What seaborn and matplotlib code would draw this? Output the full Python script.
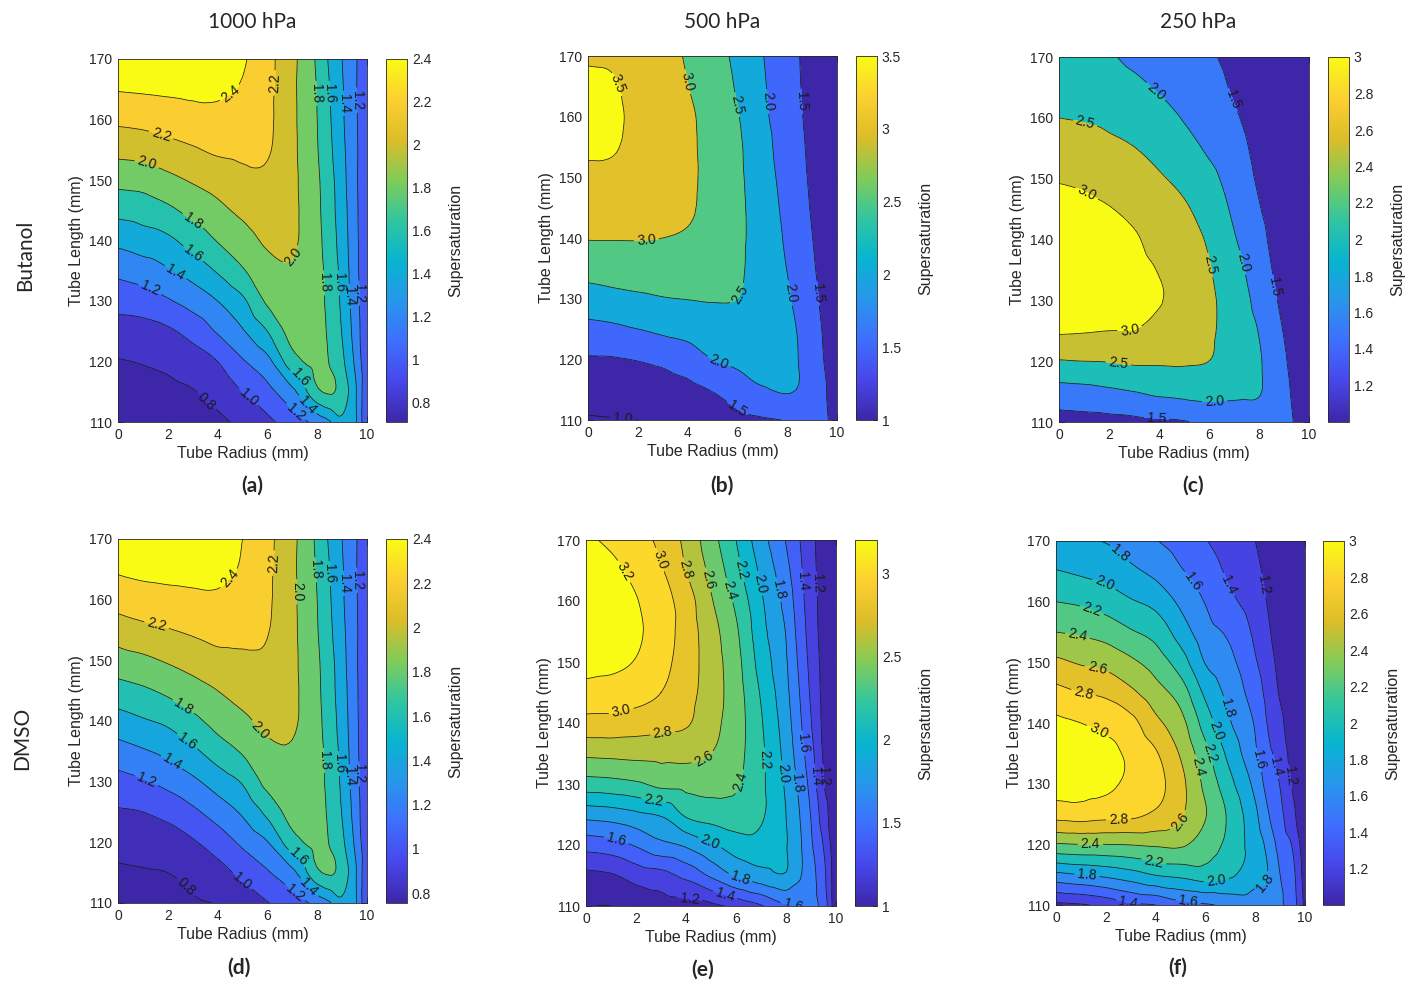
import numpy as np
import matplotlib
matplotlib.use("Agg")
import matplotlib.pyplot as plt
import matplotlib.tri as mtri
import seaborn as sns
from matplotlib.colors import LinearSegmentedColormap, Normalize
from matplotlib.cm import ScalarMappable
from matplotlib.ticker import FuncFormatter

sns.set_theme(style="ticks")
plt.rcParams["font.family"] = ["Liberation Sans", "DejaVu Sans"]
plt.rcParams["axes.edgecolor"] = "#262626"
plt.rcParams["xtick.color"] = "#262626"
plt.rcParams["ytick.color"] = "#262626"

# grid of the model, tube radius (mm) and tube length (mm)
radius = [0, 1, 2, 3, 4, 5, 6, 7, 8, 8.5, 9, 9.5, 10]
length = [110, 115, 120, 125, 130, 135, 140, 145, 150, 155, 160, 165, 170]

# supersaturation: one row per radius, length 110 -> 170
s_butanol_1000 = [
    [0.71, 0.74, 0.79, 0.92, 1.07, 1.25, 1.45, 1.66, 1.86, 2.06, 2.24, 2.41, 2.50],
    [0.71, 0.75, 0.81, 0.93, 1.10, 1.30, 1.51, 1.69, 1.88, 2.08, 2.26, 2.42, 2.50],
    [0.72, 0.76, 0.84, 0.97, 1.18, 1.38, 1.56, 1.76, 1.95, 2.13, 2.29, 2.43, 2.50],
    [0.73, 0.79, 0.91, 1.07, 1.28, 1.48, 1.68, 1.86, 2.02, 2.18, 2.32, 2.44, 2.49],
    [0.76, 0.87, 1.00, 1.22, 1.40, 1.62, 1.81, 1.95, 2.08, 2.23, 2.34, 2.43, 2.46],
    [0.85, 1.00, 1.18, 1.38, 1.56, 1.78, 1.92, 2.04, 2.15, 2.24, 2.30, 2.38, 2.42],
    [0.95, 1.14, 1.34, 1.60, 1.83, 1.93, 2.03, 2.10, 2.16, 2.22, 2.24, 2.25, 2.26],
    [1.10, 1.35, 1.72, 1.87, 1.93, 1.98, 2.03, 2.04, 2.04, 2.04, 2.04, 2.04, 2.05],
    [1.27, 1.76, 1.86, 1.88, 1.88, 1.87, 1.85, 1.84, 1.83, 1.81, 1.80, 1.79, 1.77],
    [1.38, 1.82, 1.79, 1.76, 1.73, 1.72, 1.70, 1.68, 1.67, 1.64, 1.62, 1.60, 1.57],
    [1.55, 1.72, 1.64, 1.59, 1.56, 1.54, 1.51, 1.49, 1.47, 1.45, 1.43, 1.42, 1.40],
    [1.45, 1.45, 1.38, 1.33, 1.30, 1.28, 1.27, 1.26, 1.25, 1.25, 1.24, 1.23, 1.23],
    [1.00, 1.02, 1.03, 1.03, 1.03, 1.04, 1.04, 1.05, 1.05, 1.06, 1.06, 1.07, 1.08],
]

s_butanol_500 = [
    [0.96, 1.20, 1.46, 1.86, 2.29, 2.68, 3.02, 3.22, 3.42, 3.55, 3.60, 3.56, 3.47],
    [0.98, 1.23, 1.47, 1.91, 2.36, 2.72, 3.02, 3.20, 3.40, 3.53, 3.57, 3.53, 3.45],
    [1.00, 1.27, 1.52, 2.00, 2.42, 2.75, 3.02, 3.17, 3.30, 3.38, 3.40, 3.37, 3.30],
    [1.05, 1.30, 1.60, 2.10, 2.48, 2.76, 3.00, 3.12, 3.20, 3.25, 3.25, 3.22, 3.18],
    [1.10, 1.37, 1.75, 2.17, 2.51, 2.75, 2.95, 3.06, 3.09, 3.09, 3.08, 3.01, 2.95],
    [1.18, 1.53, 2.00, 2.26, 2.53, 2.70, 2.80, 2.84, 2.85, 2.84, 2.82, 2.78, 2.72],
    [1.35, 1.75, 2.10, 2.30, 2.50, 2.57, 2.59, 2.60, 2.59, 2.58, 2.53, 2.45, 2.38],
    [1.45, 1.96, 2.15, 2.22, 2.28, 2.30, 2.30, 2.27, 2.23, 2.17, 2.10, 2.06, 2.02],
    [1.52, 2.05, 2.12, 2.10, 2.05, 1.99, 1.93, 1.87, 1.81, 1.77, 1.74, 1.71, 1.68],
    [1.65, 1.97, 1.98, 1.95, 1.87, 1.80, 1.74, 1.68, 1.63, 1.59, 1.55, 1.52, 1.50],
    [1.72, 1.78, 1.75, 1.70, 1.62, 1.56, 1.51, 1.46, 1.42, 1.39, 1.36, 1.33, 1.30],
    [1.60, 1.55, 1.48, 1.44, 1.39, 1.35, 1.31, 1.28, 1.25, 1.23, 1.21, 1.19, 1.17],
    [1.20, 1.20, 1.18, 1.16, 1.14, 1.12, 1.10, 1.08, 1.07, 1.06, 1.05, 1.04, 1.03],
]

s_butanol_250 = [
    [1.30, 1.81, 2.47, 3.05, 3.25, 3.30, 3.25, 3.13, 2.97, 2.73, 2.50, 2.37, 2.25],
    [1.33, 1.85, 2.50, 3.03, 3.22, 3.26, 3.22, 3.10, 2.92, 2.69, 2.47, 2.33, 2.18],
    [1.35, 1.92, 2.52, 3.00, 3.17, 3.20, 3.14, 3.02, 2.82, 2.60, 2.41, 2.22, 2.05],
    [1.38, 2.00, 2.57, 2.99, 3.10, 3.12, 3.05, 2.89, 2.70, 2.51, 2.31, 2.11, 1.90],
    [1.42, 2.10, 2.56, 2.84, 3.03, 2.98, 2.84, 2.69, 2.55, 2.36, 2.21, 1.95, 1.83],
    [1.47, 2.15, 2.55, 2.70, 2.78, 2.77, 2.70, 2.56, 2.38, 2.17, 1.97, 1.80, 1.66],
    [1.62, 2.17, 2.50, 2.56, 2.58, 2.53, 2.44, 2.29, 2.13, 1.93, 1.78, 1.66, 1.55],
    [1.70, 2.10, 2.27, 2.30, 2.27, 2.17, 2.04, 1.92, 1.80, 1.69, 1.56, 1.45, 1.38],
    [1.72, 2.04, 2.05, 1.98, 1.85, 1.75, 1.65, 1.53, 1.44, 1.37, 1.30, 1.24, 1.20],
    [1.70, 1.80, 1.78, 1.70, 1.60, 1.51, 1.43, 1.36, 1.30, 1.25, 1.20, 1.16, 1.12],
    [1.62, 1.60, 1.55, 1.48, 1.40, 1.34, 1.28, 1.23, 1.18, 1.14, 1.11, 1.08, 1.05],
    [1.45, 1.40, 1.35, 1.30, 1.25, 1.20, 1.16, 1.12, 1.09, 1.06, 1.04, 1.02, 1.01],
    [1.20, 1.18, 1.16, 1.14, 1.12, 1.10, 1.08, 1.06, 1.05, 1.04, 1.03, 1.02, 1.00],
]

s_dmso_1000 = [
    [0.76, 0.78, 0.86, 0.98, 1.13, 1.32, 1.52, 1.72, 1.92, 2.10, 2.28, 2.42, 2.50],
    [0.76, 0.79, 0.87, 1.00, 1.18, 1.38, 1.58, 1.77, 1.96, 2.15, 2.32, 2.44, 2.50],
    [0.77, 0.80, 0.90, 1.06, 1.26, 1.45, 1.64, 1.84, 2.02, 2.19, 2.34, 2.45, 2.50],
    [0.78, 0.85, 0.98, 1.16, 1.36, 1.56, 1.75, 1.92, 2.08, 2.23, 2.36, 2.45, 2.49],
    [0.81, 0.93, 1.09, 1.29, 1.49, 1.70, 1.87, 2.00, 2.14, 2.27, 2.37, 2.44, 2.46],
    [0.89, 1.05, 1.24, 1.43, 1.62, 1.82, 1.96, 2.07, 2.17, 2.25, 2.32, 2.38, 2.40],
    [0.99, 1.18, 1.39, 1.65, 1.86, 1.95, 2.05, 2.11, 2.17, 2.21, 2.23, 2.24, 2.25],
    [1.10, 1.35, 1.72, 1.87, 1.93, 1.98, 2.03, 2.04, 2.04, 2.04, 2.04, 2.04, 2.05],
    [1.27, 1.76, 1.86, 1.88, 1.88, 1.87, 1.85, 1.84, 1.83, 1.81, 1.80, 1.78, 1.76],
    [1.38, 1.82, 1.79, 1.76, 1.73, 1.72, 1.70, 1.68, 1.67, 1.64, 1.62, 1.60, 1.57],
    [1.55, 1.72, 1.64, 1.59, 1.56, 1.54, 1.51, 1.49, 1.47, 1.45, 1.43, 1.42, 1.40],
    [1.45, 1.45, 1.38, 1.33, 1.30, 1.28, 1.27, 1.26, 1.25, 1.25, 1.24, 1.23, 1.23],
    [1.00, 1.02, 1.03, 1.03, 1.03, 1.04, 1.04, 1.05, 1.05, 1.06, 1.06, 1.07, 1.08],
]

s_dmso_500 = [
    [1.00, 1.15, 1.48, 1.87, 2.31, 2.64, 2.93, 3.14, 3.25, 3.28, 3.28, 3.26, 3.22],
    [1.00, 1.18, 1.52, 1.90, 2.33, 2.65, 2.93, 3.12, 3.24, 3.27, 3.27, 3.24, 3.17],
    [1.05, 1.28, 1.62, 1.96, 2.37, 2.66, 2.90, 3.08, 3.19, 3.23, 3.21, 3.15, 3.08],
    [1.10, 1.33, 1.75, 2.02, 2.45, 2.66, 2.86, 3.00, 3.07, 3.10, 3.08, 3.02, 2.95],
    [1.12, 1.45, 1.83, 2.23, 2.46, 2.66, 2.82, 2.87, 2.90, 2.91, 2.90, 2.80, 2.75],
    [1.15, 1.63, 1.97, 2.29, 2.47, 2.60, 2.67, 2.70, 2.70, 2.68, 2.62, 2.55, 2.48],
    [1.25, 1.82, 2.09, 2.33, 2.42, 2.47, 2.49, 2.49, 2.47, 2.43, 2.36, 2.27, 2.20],
    [1.38, 1.92, 2.12, 2.23, 2.24, 2.24, 2.22, 2.18, 2.12, 2.07, 2.03, 1.96, 1.88],
    [1.57, 1.98, 2.01, 2.00, 1.97, 1.93, 1.89, 1.85, 1.82, 1.79, 1.73, 1.66, 1.59],
    [1.62, 1.83, 1.85, 1.82, 1.77, 1.71, 1.66, 1.62, 1.58, 1.54, 1.50, 1.46, 1.42],
    [1.65, 1.67, 1.63, 1.59, 1.53, 1.47, 1.41, 1.37, 1.34, 1.31, 1.29, 1.27, 1.25],
    [1.52, 1.46, 1.39, 1.30, 1.21, 1.18, 1.16, 1.15, 1.14, 1.13, 1.13, 1.12, 1.12],
    [1.05, 1.05, 1.04, 1.04, 1.03, 1.03, 1.03, 1.03, 1.02, 1.02, 1.02, 1.02, 1.02],
]

s_dmso_250 = [
    [1.15, 1.75, 2.38, 2.88, 3.08, 3.10, 3.04, 2.86, 2.64, 2.40, 2.20, 2.01, 1.86],
    [1.18, 1.80, 2.40, 2.90, 3.07, 3.08, 3.00, 2.80, 2.58, 2.37, 2.17, 1.97, 1.82],
    [1.25, 1.85, 2.40, 2.87, 3.04, 3.05, 2.95, 2.76, 2.54, 2.32, 2.11, 1.93, 1.79],
    [1.36, 1.92, 2.41, 2.85, 2.96, 2.96, 2.86, 2.64, 2.44, 2.22, 2.02, 1.84, 1.71],
    [1.40, 2.01, 2.43, 2.77, 2.87, 2.82, 2.65, 2.48, 2.31, 2.13, 1.94, 1.75, 1.61],
    [1.52, 2.05, 2.43, 2.63, 2.66, 2.58, 2.47, 2.31, 2.10, 1.91, 1.76, 1.62, 1.52],
    [1.58, 2.10, 2.30, 2.41, 2.35, 2.26, 2.11, 1.96, 1.79, 1.68, 1.59, 1.50, 1.41],
    [1.65, 2.03, 2.13, 2.15, 2.05, 1.93, 1.81, 1.73, 1.65, 1.56, 1.44, 1.36, 1.30],
    [1.70, 1.86, 1.90, 1.84, 1.74, 1.63, 1.58, 1.50, 1.42, 1.36, 1.30, 1.25, 1.20],
    [1.72, 1.80, 1.75, 1.62, 1.53, 1.45, 1.39, 1.34, 1.29, 1.23, 1.19, 1.15, 1.12],
    [1.63, 1.60, 1.52, 1.45, 1.39, 1.33, 1.25, 1.18, 1.14, 1.11, 1.09, 1.07, 1.05],
    [1.50, 1.46, 1.38, 1.25, 1.18, 1.12, 1.08, 1.06, 1.04, 1.03, 1.02, 1.01, 1.01],
    [1.15, 1.10, 1.06, 1.04, 1.02, 1.01, 1.01, 1.00, 1.00, 1.00, 1.00, 1.00, 1.00],
]

levels_1000 = [0.8, 1.0, 1.2, 1.4, 1.6, 1.8, 2.0, 2.2, 2.4]
levels_coarse = [1.0, 1.5, 2.0, 2.5, 3.0, 3.5]
levels_dmso_500 = [1.0, 1.2, 1.4, 1.6, 1.8, 2.0, 2.2, 2.4, 2.6, 2.8, 3.0, 3.2]
levels_dmso_250 = [1.2, 1.4, 1.6, 1.8, 2.0, 2.2, 2.4, 2.6, 2.8, 3.0]

ticks_1000 = [0.8, 1.0, 1.2, 1.4, 1.6, 1.8, 2.0, 2.2, 2.4]
ticks_500 = [1.0, 1.5, 2.0, 2.5, 3.0, 3.5]
ticks_250 = [1.2, 1.4, 1.6, 1.8, 2.0, 2.2, 2.4, 2.6, 2.8, 3.0]
ticks_dmso_500 = [1.0, 1.5, 2.0, 2.5, 3.0]

# where the contour labels sit (radius, length)
lab_a = [(4.55, 164.1), (6.43, 166), (1.74, 157.5), (1.14, 152.5), (7.1, 137.1),
         (3.0, 143.2), (7.9, 164.3), (8.3, 133), (7.4, 117.9), (3.0, 137.7),
         (8.43, 164.3), (8.9, 133), (7.7, 113.2), (2.34, 134.9), (9.04, 162.7),
         (9.3, 130.8), (1.27, 131.9), (9.5, 163.2), (9.57, 131.3), (7.0, 111.0),
         (5.15, 113.7), (3.48, 113.2)]
lab_b = [(1.07, 165.2), (4.03, 165.8), (2.35, 139.5), (5.87, 161.9), (6.1, 130.6),
         (7.29, 162.5), (8.05, 130.9), (5.23, 119.3), (8.59, 162.5), (9.13, 130.9),
         (6.04, 112.2), (1.41, 110.5)]
lab_c = [(3.8, 164), (6.9, 162.9), (1.04, 159.1), (1.17, 148.1), (5.77, 135.6),
         (7.2, 136.1), (8.67, 132.3), (2.84, 124.9), (2.37, 119.7), (6.23, 112.9),
         (3.9, 110.7)]
lab_d = [(4.35, 164.1), (6.3, 166), (1.6, 156.6), (7.1, 161.3), (5.7, 138.5),
         (2.7, 142.9), (7.83, 164.9), (8.23, 133.5), (7.36, 118.1), (2.8, 136.8),
         (8.43, 164.3), (8.9, 133), (7.76, 112.9), (2.2, 133.5), (9.04, 162.7),
         (9.3, 130.8), (1.2, 130.8), (9.5, 163.2), (9.57, 131.3), (7.0, 111.2),
         (5.0, 113.7), (2.68, 112.4)]
lab_e = [(1.64, 165.1), (2.9, 166.7), (3.97, 165.1), (4.9, 163.5), (5.77, 161.8),
         (6.17, 165.1), (6.96, 162.9), (7.63, 161.8), (8.63, 163.2), (9.36, 162.9),
         (1.44, 141.4), (3.1, 137.5), (4.77, 133.5), (6.3, 130.2), (7.23, 134),
         (7.9, 131.8), (8.43, 130.2), (8.7, 136.7), (9.16, 131.3), (9.5, 131.3),
         (2.7, 127.2), (4.97, 120.6), (6.17, 114.6), (1.24, 121.2), (8.3, 110.3),
         (5.57, 111.9), (4.17, 111.6)]
lab_f = [(2.51, 167.6), (1.91, 162.7), (5.39, 163), (6.86, 162.7), (8.33, 162.7),
         (1.44, 158.6), (0.87, 154.5), (1.64, 148.7), (1.11, 145.1), (1.71, 138.8),
         (6.86, 142.4), (6.46, 138.8), (6.19, 135), (5.72, 132.8), (8.13, 133.9),
         (8.8, 132.8), (9.4, 131.2), (2.51, 124), (5.05, 123.5), (1.38, 119.9),
         (3.92, 116.9), (6.46, 113.3), (1.24, 114.9), (8.6, 113), (5.32, 110.8),
         (2.91, 110.6)]

# parula
parula = LinearSegmentedColormap.from_list("parula", [
    (0.2422, 0.1504, 0.6603), (0.2803, 0.2782, 0.9221), (0.2440, 0.4358, 0.9988),
    (0.1540, 0.5902, 0.9218), (0.0297, 0.7082, 0.8163), (0.1938, 0.7758, 0.6251),
    (0.5044, 0.7993, 0.3480), (0.8634, 0.7406, 0.1596), (0.9892, 0.8136, 0.1885),
    (0.9769, 0.9839, 0.0805)], N=256)

W, H = 1415, 997
fig = plt.figure(figsize=(W / 100, H / 100), dpi=100)


def rect(x0, y0, x1, y1):
    return [x0 / W, 1 - y1 / H, (x1 - x0) / W, (y1 - y0) / H]


panels = [
    (s_butanol_1000, levels_1000, 0.71, 2.40, ticks_1000, lab_a, (118, 59, 367, 422), (386, 59, 407, 422)),
    (s_butanol_500, levels_coarse, 1.00, 3.50, ticks_500, lab_b, (588, 56, 837, 420), (856, 56, 877, 420)),
    (s_butanol_250, levels_coarse, 1.00, 3.00, ticks_250, lab_c, (1059, 57, 1309, 422), (1328, 57, 1349, 422)),
    (s_dmso_1000, levels_1000, 0.755, 2.40, ticks_1000, lab_d, (118, 539, 367, 903), (386, 539, 407, 903)),
    (s_dmso_500, levels_dmso_500, 1.00, 3.20, ticks_dmso_500, lab_e, (586, 540, 836, 906), (855, 540, 877, 906)),
    (s_dmso_250, levels_dmso_250, 1.00, 3.00, ticks_250, lab_f, (1056, 541, 1305, 905), (1323, 541, 1344, 905)),
]

R, L = np.meshgrid(radius, length)
tri = mtri.Triangulation(R.ravel(), L.ravel())
refiner = mtri.UniformTriRefiner(tri)

for values, levels, vmin, vmax, cticks, labpos, box, cbox in panels:
    Z = np.array(values).T
    # smooth contouring of the read grid with matplotlib's tri refiner
    interp = mtri.CubicTriInterpolator(tri, Z.ravel(), kind="geom")
    tri_f, z_f = refiner.refine_field(Z.ravel(), triinterpolator=interp, subdiv=3)
    norm = Normalize(vmin, vmax)
    ax = fig.add_axes(rect(*box))
    # each band takes the colour of its lower level, like MATLAB contourf
    fill_colors = [parula(0.0)] + [parula(norm(v)) for v in levels]
    ax.tricontourf(tri_f, z_f, levels=[0.0] + levels + [10.0], colors=fill_colors)
    cs = ax.tricontour(tri_f, z_f, levels=levels, colors="k", linewidths=0.55)
    ax.clabel(cs, fmt="%.1f", fontsize=10, inline=True, inline_spacing=3, manual=labpos)
    ax.set_xlim(0, 10)
    ax.set_ylim(110, 170)
    ax.set_xticks([0, 2, 4, 6, 8, 10])
    ax.set_yticks([110, 120, 130, 140, 150, 160, 170])
    ax.tick_params(direction="in", top=True, right=True, length=4, width=0.6, labelsize=10, pad=4)
    for sp in ax.spines.values():
        sp.set_linewidth(0.6)
    ax.set_xlabel("Tube Radius (mm)", fontsize=11.5, color="#262626", labelpad=3)
    ax.set_ylabel("Tube Length (mm)", fontsize=11.5, color="#262626", labelpad=4)

    cax = fig.add_axes(rect(*cbox))
    cb = fig.colorbar(ScalarMappable(norm=norm, cmap=parula), cax=cax)
    cb.set_ticks(cticks)
    cb.ax.yaxis.set_major_formatter(FuncFormatter(lambda v, p: f"{v:g}"))
    cb.ax.tick_params(direction="in", length=3, width=0.6, labelsize=10)
    cb.outline.set_linewidth(0.6)
    cb.set_label("Supersaturation", fontsize=11.5, color="#262626", labelpad=12)

title_font = ["Lato", "DejaVu Sans"]
for txt, x in [("1000 hPa", 252), ("500 hPa", 722), ("250 hPa", 1198)]:
    fig.text(x / W, 1 - 22 / H, txt, ha="center", va="center", fontsize=15, family=title_font)

fig.text(25 / W, 1 - 255 / H, "Butanol", rotation=90, ha="center", va="center", fontsize=15, family=title_font)
fig.text(22 / W, 1 - 738 / H, "DMSO", rotation=90, ha="center", va="center", fontsize=15, family=title_font)

for txt, x, y in [("(a)", 252, 486), ("(b)", 722, 486), ("(c)", 1193, 486),
                  ("(d)", 239, 968), ("(e)", 703, 970), ("(f)", 1178, 968)]:
    fig.text(x / W, 1 - y / H, txt, ha="center", va="center", fontsize=15, weight="bold", family=title_font)

fig.savefig("out.png", dpi=100)
